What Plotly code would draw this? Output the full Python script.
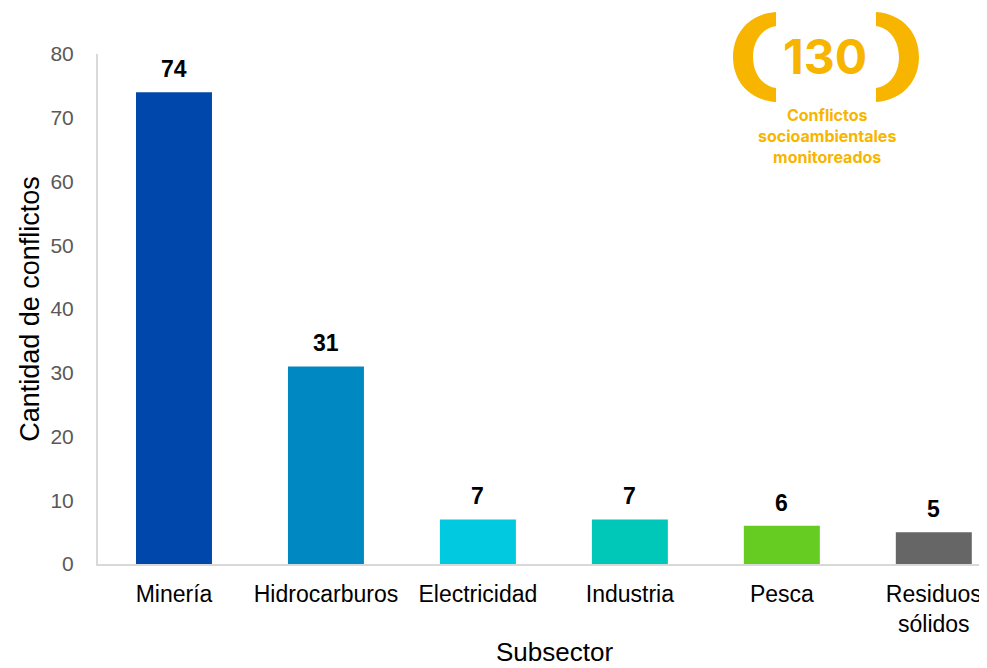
import plotly.graph_objects as go

subsectores = ["Minería", "Hidrocarburos", "Electricidad", "Industria", "Pesca", "Residuos<br>sólidos"]
conflictos = [74, 31, 7, 7, 6, 5]
colores = ["#0047AB", "#0088C2", "#00C9E0", "#00C8B9", "#66CC22", "#666666"]
total = 130

# the html page has an 8px body margin, so work in page pixels and shift
OFF = 8
W, H = 987 - OFF, 668 - OFF
L, R, T, B = 98, 987, 54, 564   # plot area, page pixels


def px(x, y):
    return (x - L) / (R - L), (B - y) / (B - T)


def path(points):
    out = ""
    for cmd, pts in points:
        out += cmd + " " + " ".join("%.4f,%.4f" % px(*p) for p in pts) + " "
    return out + "Z"


def bracket(s):
    # s = +1 left bracket, -1 right bracket (mirrored around cx)
    cx = 826
    def m(x):
        return cx + s * (x - cx)
    pts = [
        ("M", [(m(776), 12)]),
        ("C", [(m(748), 14), (m(733), 34), (m(733), 57)]),
        ("C", [(m(733), 80), (m(748), 100), (m(776), 102)]),
        ("L", [(m(776), 88)]),
        ("C", [(m(762), 86), (m(753), 73), (m(753), 57)]),
        ("C", [(m(753), 41), (m(762), 28), (m(776), 26)]),
    ]
    return path(pts)


fig = go.Figure()
fig.add_trace(go.Bar(
    x=list(range(len(subsectores))), y=conflictos,
    marker=dict(color=colores, line=dict(width=0)),
    width=0.5,
))

# value labels above bars
for i, v in enumerate(conflictos):
    fig.add_annotation(x=i, y=v, text="<b>%d</b>" % v, showarrow=False,
                       yanchor="bottom", yshift=8,
                       font=dict(family="Liberation Sans, Arial", size=23, color="black"))

amarillo = "#F7B500"
for s in (1, -1):
    fig.add_shape(type="path", xref="paper", yref="paper", path=bracket(s),
                  fillcolor=amarillo, line=dict(width=0))

bx, by = px(825, 57)
fig.add_annotation(x=bx, y=by, xref="paper", yref="paper", text="<b>%d</b>" % total,
                   showarrow=False, xanchor="center", yanchor="middle",
                   font=dict(family="Inter", size=48, color=amarillo))
tx, ty = px(827, 136)
fig.add_annotation(x=tx, y=ty, xref="paper", yref="paper",
                   text="<b>Conflictos<br>socioambientales<br>monitoreados</b>",
                   showarrow=False, align="center", xanchor="center", yanchor="middle",
                   font=dict(family="Inter", size=16, color=amarillo))

# x axis title
sx, sy = px(554, 652)
fig.add_annotation(x=sx, y=sy, xref="paper", yref="paper", text="Subsector",
                   showarrow=False, xanchor="center", yanchor="middle",
                   font=dict(family="Liberation Sans, Arial", size=26, color="black"))

fig.update_layout(
    width=W, height=H,
    margin=dict(l=L - OFF, r=W - (R - OFF), t=T - OFF, b=H - (B - OFF)),
    plot_bgcolor="white", paper_bgcolor="white",
    showlegend=False,
    font=dict(family="Liberation Sans, Arial", color="black"),
    xaxis=dict(
        range=[-0.5, 5.35], tickmode="array", automargin=False,
        tickvals=list(range(len(subsectores))), ticktext=subsectores,
        tickfont=dict(size=23, color="black"),
        showline=True, linecolor="#D9D9D9", linewidth=2, showgrid=False,
        ticks="outside", ticklen=8, tickcolor="rgba(0,0,0,0)",
    ),
    yaxis=dict(
        range=[0, 80], dtick=10, automargin=False,
        tickfont=dict(size=21, color="#595959"),
        showline=True, linecolor="#D9D9D9", linewidth=2, showgrid=False,
        ticks="outside", ticklen=18, tickcolor="rgba(0,0,0,0)",
        zeroline=False,
        title=dict(text="Cantidad de conflictos", font=dict(size=27, color="black"), standoff=3),
    ),
)

fig.write_html("out.html")
